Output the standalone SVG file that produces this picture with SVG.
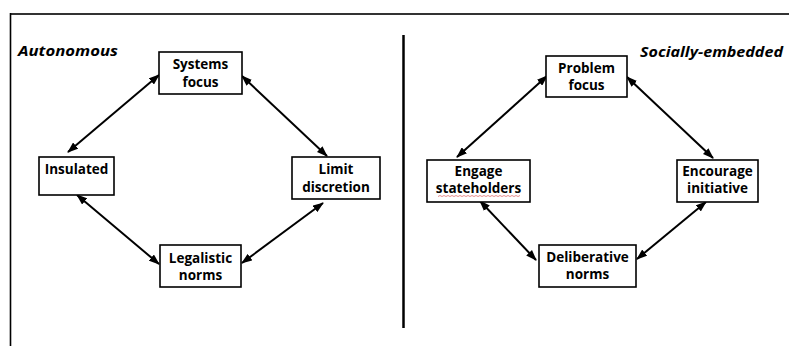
<svg xmlns="http://www.w3.org/2000/svg" width="789" height="346" viewBox="0 0 789 346">
<style>
.box{fill:#fff;stroke:#000;stroke-width:1.6}
.t{font-family:"Open Sans","Liberation Sans",sans-serif;font-weight:bold;font-size:13.5px;text-anchor:middle;fill:#000}
.h{font-family:"Open Sans","Liberation Sans",sans-serif;font-weight:bold;font-style:italic;font-size:15px;fill:#000}
.c{stroke:#000;stroke-width:2;fill:none;marker-start:url(#ah);marker-end:url(#ah)}
</style>
<defs>
<marker id="ah" markerUnits="userSpaceOnUse" markerWidth="11" markerHeight="8" refX="10" refY="4" orient="auto-start-reverse">
<path d="M0,0 L11,4 L0,8 z" fill="#000"/>
</marker>
</defs>
<rect width="789" height="346" fill="#fff"/>
<g id="frame">
<line x1="10.5" y1="14" x2="789" y2="14" stroke="#333" stroke-width="2"/>
<line x1="10.5" y1="13" x2="10.5" y2="346" stroke="#000" stroke-width="1.6"/>
<line x1="403.5" y1="35" x2="403.5" y2="328" stroke="#000" stroke-width="2.5"/>
</g>
<text class="h" x="18" y="56" textLength="100" lengthAdjust="spacingAndGlyphs">Autonomous</text>
<text class="h" x="640" y="57" textLength="143" lengthAdjust="spacingAndGlyphs">Socially-embedded</text>
<g id="connectors">
<line class="c" x1="159" y1="75" x2="68" y2="152"/>
<line class="c" x1="242" y1="76" x2="327" y2="156"/>
<line class="c" x1="77" y1="195" x2="159" y2="264"/>
<line class="c" x1="323" y1="203" x2="242" y2="263"/>
<line class="c" x1="547" y1="76" x2="457" y2="157"/>
<line class="c" x1="627" y1="77" x2="713" y2="158"/>
<line class="c" x1="480" y1="201" x2="536" y2="260"/>
<line class="c" x1="706" y1="202" x2="637" y2="259"/>
</g>
<g id="systems-focus"><rect class="box" x="159" y="52" width="83" height="42"/><text class="t" x="200.5" y="69">Systems</text><text class="t" x="200.5" y="87">focus</text></g>
<g id="insulated"><rect class="box" x="39" y="157" width="75" height="38"/><text class="t" x="76.5" y="174">Insulated</text></g>
<g id="limit-discretion"><rect class="box" x="292" y="157" width="88" height="42"/><text class="t" x="336" y="174">Limit</text><text class="t" x="336" y="192">discretion</text></g>
<g id="legalistic-norms"><rect class="box" x="160" y="245" width="81" height="42"/><text class="t" x="200.5" y="263">Legalistic</text><text class="t" x="200.5" y="280">norms</text></g>
<g id="problem-focus"><rect class="box" x="546" y="56" width="81" height="41"/><text class="t" x="586.5" y="73">Problem</text><text class="t" x="586.5" y="90">focus</text></g>
<g id="engage-stateholders"><rect class="box" x="427" y="160" width="103" height="42"/><text class="t" x="478.5" y="176">Engage</text><text class="t" x="478.5" y="193">stateholders</text>
<path d="M438,196.5 l2,-1 l2,1 l2,-1 l2,1 l2,-1 l2,1 l2,-1 l2,1 l2,-1 l2,1 l2,-1 l2,1 l2,-1 l2,1 l2,-1 l2,1 l2,-1 l2,1 l2,-1 l2,1 l2,-1 l2,1 l2,-1 l2,1 l2,-1 l2,1 l2,-1 l2,1 l2,-1 l2,1 l2,-1 l2,1 l2,-1 l2,1 l2,-1 l2,1 l2,-1 l2,1 l2,-1 l2,1 l2,-1" fill="none" stroke="#e07070" stroke-width="0.8"/></g>
<g id="encourage-initiative"><rect class="box" x="677" y="160" width="81" height="42"/><text class="t" x="717.5" y="176">Encourage</text><text class="t" x="717.5" y="193">initiative</text></g>
<g id="deliberative-norms"><rect class="box" x="539" y="245" width="97" height="42"/><text class="t" x="587.5" y="262">Deliberative</text><text class="t" x="587.5" y="279">norms</text></g>
</svg>
